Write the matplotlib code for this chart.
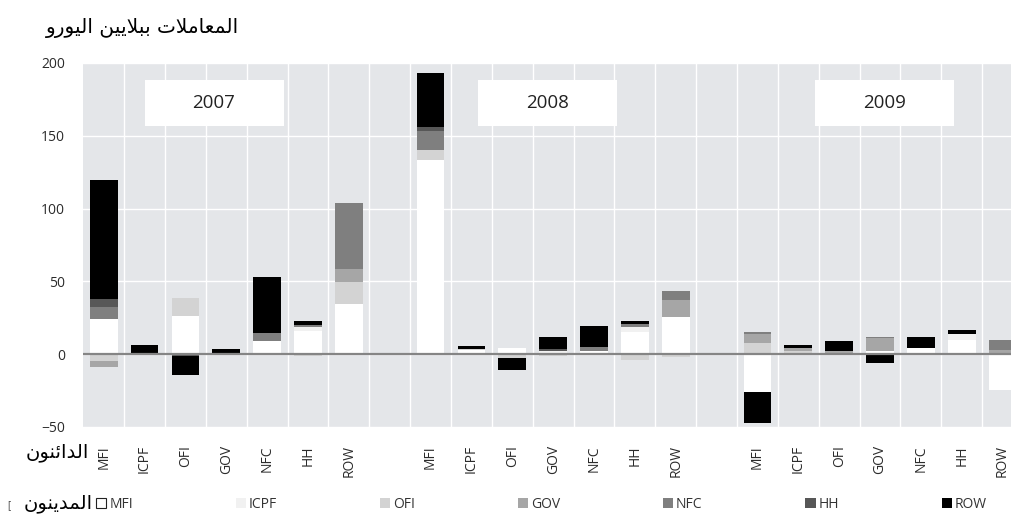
import numpy as np
import matplotlib.pyplot as plt
from matplotlib.patches import Patch, Rectangle

# creditor sectors (x axis) for each year, debtor sectors are the stacked series
creditors = ["MFI", "ICPF", "OFI", "GOV", "NFC", "HH", "ROW"]
years = ["2007", "2008", "2009"]
debtors = ["MFI", "ICPF", "OFI", "GOV", "NFC", "HH", "ROW"]

# EUR billions, 7 creditors x 3 years (2007 | 2008 | 2009)
mfi = [24, 1, 26, 1, 9, 16, 34.5,
       133.4, 3, 4, 0, 2.5, 15.5, 25.4,
       -26, 0, 0, 2.5, 4.1, 9.6, -24.3]
icpf = [0, 0, 0, 0, 0, 3, 0,
        0, 0, 0, 2, 0, 3.4, 0,
        0, 0, 0, 0, 0, 4.5, 0]
ofi = [-5, 0, 12.5, 0, 0, -1, 15,
       6.9, 0.5, -2.3, -1.5, 0, -3.9, -2,
       7.5, 2.2, 0, 0, 0, 0, 0]
gov = [-3.5, 0, 0, 0, 0, 0, 9,
       0, 0, 0, 0, 0, 0, 12.1,
       6.6, 2.1, 2.2, 8.5, 0, 0, 2.7]
nfc = [8.7, 0, 0, 0, 5.5, 1, 45.3,
       13, 0, 0, 0, 2.7, 1.6, 6.2,
       1.4, 0, 0, 1.1, 0, 0, 6.9]
hh = [5.5, 0, -1.5, 0, 0, 0, 0,
      2.5, 0, 0, 1.5, 0, 0, 0,
      0, 0, 0, 0, 0, 0, 0]
row = [81.5, 5.4, -13, 2.5, 38.5, 2.7, 0,
       37.1, 1.8, -8.5, 8.6, 14.2, 2.3, 0,
       -21, 1.9, 7.1, -6, 8, 2.7, 0]

series = [mfi, icpf, ofi, gov, nfc, hh, row]
colors = ["#ffffff", "#f1f1f1", "#d3d3d3", "#a6a6a6", "#7f7f7f", "#575757", "#000000"]

# Arabic strings pre-shaped (presentation forms, visual order): matplotlib does no bidi/shaping
ylabel_ar = ("\uFEED\uFEAD\uFEEE\uFEF4\uFEDF\uFE8D "
             "\uFEE6\uFEF4\uFEF3\uFEFC\uFE92\uFE91 "
             "\uFE95\uFEFC\uFEE3\uFE8E\uFECC\uFEE4\uFEDF\uFE8D")
creditors_ar = "\uFEE5\uFEEE\uFEE8\uFE8B\uFE8D\uFEAA\uFEDF\uFE8D"
debtors_ar = "\uFEE5\uFEEE\uFEE8\uFEF3\uFEAA\uFEE4\uFEDF\uFE8D"

plt.rcParams["font.family"] = ["Open Sans", "DejaVu Sans"]

# one empty slot between the yearly groups
n = len(creditors)
x = np.array([g * (n + 1) + i for g in range(len(years)) for i in range(n)])

fig = plt.figure(figsize=(10.11, 5.15), dpi=100)
ax = fig.add_axes([0.0824, 0.1709, 0.9295, 0.7068])
ax.set_facecolor("#e4e6e9")

pos_bottom = np.zeros(len(x))
neg_bottom = np.zeros(len(x))
for vals, col in zip(series, colors):
    v = np.array(vals, dtype=float)
    bottom = np.where(v >= 0, pos_bottom, neg_bottom)
    ax.bar(x, v, bottom=bottom, width=0.68, color=col, linewidth=0, zorder=3)
    pos_bottom += np.clip(v, 0, None)
    neg_bottom += np.clip(v, None, 0)

ax.axhline(0, color="#858585", lw=1.6, zorder=4)

ax.set_xlim(-0.5, 22.5)
ax.set_ylim(-50, 200)
ax.set_yticks([-50, 0, 50, 100, 150, 200])
ax.set_xticks(x)
ax.set_xticklabels(creditors * len(years), rotation=90, va="top", ha="center")
ax.set_xticks(np.arange(0.5, 22.5, 1), minor=True)
ax.tick_params(axis="x", which="both", length=0, pad=13, labelsize=10, labelcolor="#2b2b2b")
ax.tick_params(axis="y", length=0, pad=13, labelsize=10, labelcolor="#2b2b2b")
ax.grid(axis="x", which="minor", color="white", lw=1)
ax.grid(axis="y", which="major", color="white", lw=1)
ax.set_axisbelow(True)
for s in ax.spines.values():
    s.set_visible(False)

# year boxes
box_left = [1.0, 9.17, 17.41]
for yr, bx in zip(years, box_left):
    ax.add_patch(Rectangle((bx, 157), 3.4, 31, facecolor="white", edgecolor="none", zorder=5))
    ax.text(bx + 1.7, 172.5, yr, ha="center", va="center", fontsize=13.5, color="#222222", zorder=6)

fig.text(0.141, 0.945, ylabel_ar, family="DejaVu Sans", fontsize=14.5, ha="center", va="center")
fig.text(0.057, 0.122, creditors_ar, family="DejaVu Sans", fontsize=14, ha="center", va="center")
fig.text(0.058, 0.022, debtors_ar, family="DejaVu Sans", fontsize=14, ha="center", va="center")
fig.text(0.007, 0.018, "[", fontsize=7, color="#444444", ha="left", va="center")

handles = [Patch(facecolor=c, edgecolor="#222222" if i == 0 else "none", linewidth=0.8)
           for i, c in enumerate(colors)]
fig.legend(handles, debtors, ncol=7, loc="center left", bbox_to_anchor=(0.095, 0.02),
           frameon=False, fontsize=10, handlelength=0.75, handleheight=0.75,
           handletextpad=0.2, columnspacing=7.4, borderpad=0, borderaxespad=0,
           labelcolor="#333333")

fig.savefig("out.png", dpi=100)
